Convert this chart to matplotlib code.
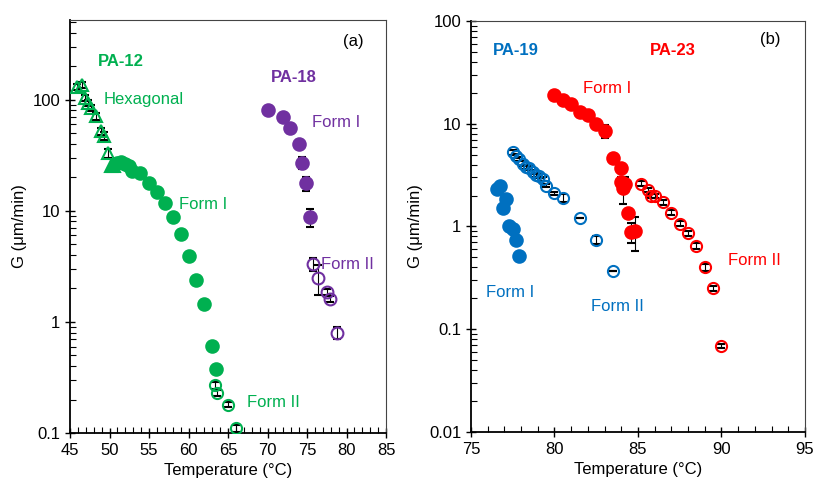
import numpy as np
import matplotlib.pyplot as plt
from matplotlib.ticker import LogLocator, NullFormatter, FixedLocator, MultipleLocator

plt.rcParams['font.family'] = ['Liberation Sans', 'DejaVu Sans']

# Cores padrão (estilo Excel)
VERDE = "#00B050"
ROXO = "#7030A0"
AZUL = "#0070C0"
VERMELHO = "#FF0000"

# ---- Painel (a) ----
# PA-12 hexagonal (triângulos abertos)
pa12_hex_t = [45.9, 46.5, 46.9, 47.3, 47.7, 48.3, 48.9, 49.3, 49.85]
pa12_hex_g = [131, 136, 104, 93, 84, 71, 52, 47, 33]
pa12_hex_err = [8, 8, 7, 6, 5, 5, 4, 4, 3]

# PA-12 transição (triângulos cheios)
pa12_tri_t = [50.2, 50.6]
pa12_tri_g = [25, 25.5]

# PA-12 forma I (círculos cheios)
pa12_f1_t = [51.0, 51.5, 52.0, 52.5, 52.8, 53.9, 55.0, 56.0, 57.0, 58.0, 59.0,
             60.0, 61.0, 62.0, 63.0, 63.5]
pa12_f1_g = [27, 27.5, 26.5, 25, 23, 22, 17.9, 14.8, 11.7, 8.7, 6.2,
             3.9, 2.4, 1.45, 0.61, 0.38]

# PA-12 forma II (círculos abertos)
pa12_f2_t = [63.4, 63.6, 65.0, 66.0]
pa12_f2_g = [0.27, 0.23, 0.18, 0.11]
pa12_f2_err = [0.02, 0.015, 0.01, 0.008]

# PA-18 forma I
pa18_f1_t = [70.0, 71.9, 72.9, 74.0, 74.3, 74.9, 75.4]
pa18_f1_g = [80, 69, 55, 40, 27, 17.6, 8.8]
pa18_f1_err = [6, 6, 5, 3, 3.5, 2.5, 1.6]

# PA-18 forma II
pa18_f2_t = [75.8, 76.4, 77.5, 77.9, 78.8]
pa18_f2_g = [3.3, 2.5, 1.87, 1.6, 0.8]
pa18_f2_err = [0.45, 0.75, 0.12, 0.1, 0.1]

# ---- Painel (b) ----
# PA-19 forma I
pa19_f1_t = [76.55, 76.75, 77.1, 76.9, 77.3, 77.5, 77.7, 77.9]
pa19_f1_g = [2.32, 2.5, 1.86, 1.52, 1.02, 0.94, 0.735, 0.515]

# PA-19 forma II
pa19_f2_t = [77.5, 77.7, 77.9, 78.1, 78.3, 78.5, 78.7, 78.9, 79.1, 79.3, 79.5,
             80.0, 80.5, 81.5, 82.5, 83.5]
pa19_f2_g = [5.3, 4.85, 4.5, 4.1, 3.8, 3.7, 3.4, 3.2, 3.1, 2.9, 2.5,
             2.1, 1.9, 1.2, 0.74, 0.37]
pa19_f2_err = [0.3, 0.25, 0.2, 0.2, 0.2, 0.15, 0.15, 0.15, 0.15, 0.1, 0.1,
               0.08, 0.15, 0.0, 0.06, 0.0]

# PA-23 forma I
pa23_f1_t = [79.95, 80.5, 81.0, 81.5, 82.0, 82.5, 83.0, 83.5, 84.0, 84.0, 84.2,
             84.1, 84.4, 84.6, 84.8]
pa23_f1_g = [19, 17, 15.5, 13.1, 12.2, 9.9, 8.5, 4.6, 3.7, 2.7, 2.6,
             2.36, 1.36, 0.89, 0.91]
pa23_f1_err = [0.5, 1.0, 0.5, 0.8, 0.5, 0.5, 1.2, 0.2, 0.2, 0.3, 0.4,
               0.7, 0.1, 0.2, 0.33]

# PA-23 forma II
pa23_f2_t = [85.2, 85.6, 85.8, 86.0, 86.5, 87.0, 87.5, 88.0, 88.5, 89.0, 89.5, 90.0]
pa23_f2_g = [2.6, 2.27, 1.98, 1.98, 1.72, 1.36, 1.06, 0.86, 0.65, 0.40, 0.25, 0.069]
pa23_f2_err = [0.15, 0.12, 0.1, 0.1, 0.1, 0.08, 0.06, 0.05, 0.04, 0.03, 0.015, 0.003]


def serie(ax, t, g, cor, marcador, cheio, err=None, tam=8.5):
    face = cor if cheio else "none"
    ax.errorbar(t, g, yerr=err, fmt=marcador, color=cor, mfc=face, mec=cor,
                ms=tam, mew=1.5, ecolor="black", elinewidth=0.8, capsize=3,
                capthick=0.8, zorder=3)


def estilo_eixo(ax, xlim, xmaj, ylim, yticks):
    ax.set_yscale("log")
    ax.set_xlim(*xlim)
    ax.set_ylim(*ylim)
    ax.xaxis.set_major_locator(MultipleLocator(xmaj))
    ax.xaxis.set_minor_locator(MultipleLocator(1))
    ax.yaxis.set_major_locator(FixedLocator(yticks))
    ax.set_yticklabels([("%g" % v) for v in yticks])
    ax.yaxis.set_minor_locator(LogLocator(base=10, subs=np.arange(2, 10)))
    ax.yaxis.set_minor_formatter(NullFormatter())
    ax.tick_params(which="major", direction="inout", length=7, width=1.0,
                   labelsize=12, top=False, right=False)
    ax.tick_params(which="minor", direction="in", length=4, width=0.8,
                   top=False, right=False)
    for lado in ["left", "bottom"]:
        ax.spines[lado].set_linewidth(1.3)
    for lado in ["right", "top"]:
        ax.spines[lado].set_linewidth(0.8)
        ax.spines[lado].set_color("#444444")
    ax.set_xlabel("Temperature (°C)", fontsize=12)
    ax.set_ylabel("G (μm/min)", fontsize=12)


fig = plt.figure(figsize=(8.16, 4.90), dpi=100)
ax_a = fig.add_axes([0.0858, 0.1163, 0.3873, 0.8429])
ax_b = fig.add_axes([0.5772, 0.1184, 0.4093, 0.8388])

# Painel (a)
serie(ax_a, pa12_hex_t, pa12_hex_g, VERDE, "^", False, pa12_hex_err, tam=8)
serie(ax_a, pa12_tri_t, pa12_tri_g, VERDE, "^", True, tam=9)
serie(ax_a, pa12_f1_t, pa12_f1_g, VERDE, "o", True, tam=9)
serie(ax_a, pa12_f2_t, pa12_f2_g, VERDE, "o", False, pa12_f2_err, tam=8)
serie(ax_a, pa18_f1_t, pa18_f1_g, ROXO, "o", True, pa18_f1_err, tam=9)
serie(ax_a, pa18_f2_t, pa18_f2_g, ROXO, "o", False, pa18_f2_err, tam=8.5)

estilo_eixo(ax_a, (45, 85), 5, (0.1, 520), [0.1, 1, 10, 100])

ax_a.text(48.5, 220, "PA-12", color=VERDE, fontsize=12, fontweight="bold", va="center")
ax_a.text(49.3, 100, "Hexagonal", color=VERDE, fontsize=12, va="center")
ax_a.text(58.8, 11.3, "Form I", color=VERDE, fontsize=12, va="center")
ax_a.text(67.4, 0.19, "Form II", color=VERDE, fontsize=12, va="center")
ax_a.text(70.4, 158, "PA-18", color=ROXO, fontsize=12, fontweight="bold", va="center")
ax_a.text(75.6, 62, "Form I", color=ROXO, fontsize=12, va="center")
ax_a.text(76.8, 3.27, "Form II", color=ROXO, fontsize=12, va="center")
ax_a.text(79.6, 330, "(a)", color="black", fontsize=12, va="center")

# Painel (b)
serie(ax_b, pa19_f1_t, pa19_f1_g, AZUL, "o", True, tam=9)
serie(ax_b, pa19_f2_t, pa19_f2_g, AZUL, "o", False, pa19_f2_err, tam=8)
serie(ax_b, pa23_f1_t, pa23_f1_g, VERMELHO, "o", True, pa23_f1_err, tam=9)
serie(ax_b, pa23_f2_t, pa23_f2_g, VERMELHO, "o", False, pa23_f2_err, tam=8)

estilo_eixo(ax_b, (75, 95), 5, (0.01, 100), [0.01, 0.1, 1, 10, 100])

ax_b.text(76.3, 52, "PA-19", color=AZUL, fontsize=12, fontweight="bold", va="center")
ax_b.text(85.7, 52, "PA-23", color=VERMELHO, fontsize=12, fontweight="bold", va="center")
ax_b.text(92.3, 66, "(b)", color="black", fontsize=12, va="center")
ax_b.text(81.7, 22, "Form I", color=VERMELHO, fontsize=12, va="center")
ax_b.text(90.4, 0.47, "Form II", color=VERMELHO, fontsize=12, va="center")
ax_b.text(75.9, 0.23, "Form I", color=AZUL, fontsize=12, va="center")
ax_b.text(82.2, 0.166, "Form II", color=AZUL, fontsize=12, va="center")

fig.savefig("out.png", dpi=100)
